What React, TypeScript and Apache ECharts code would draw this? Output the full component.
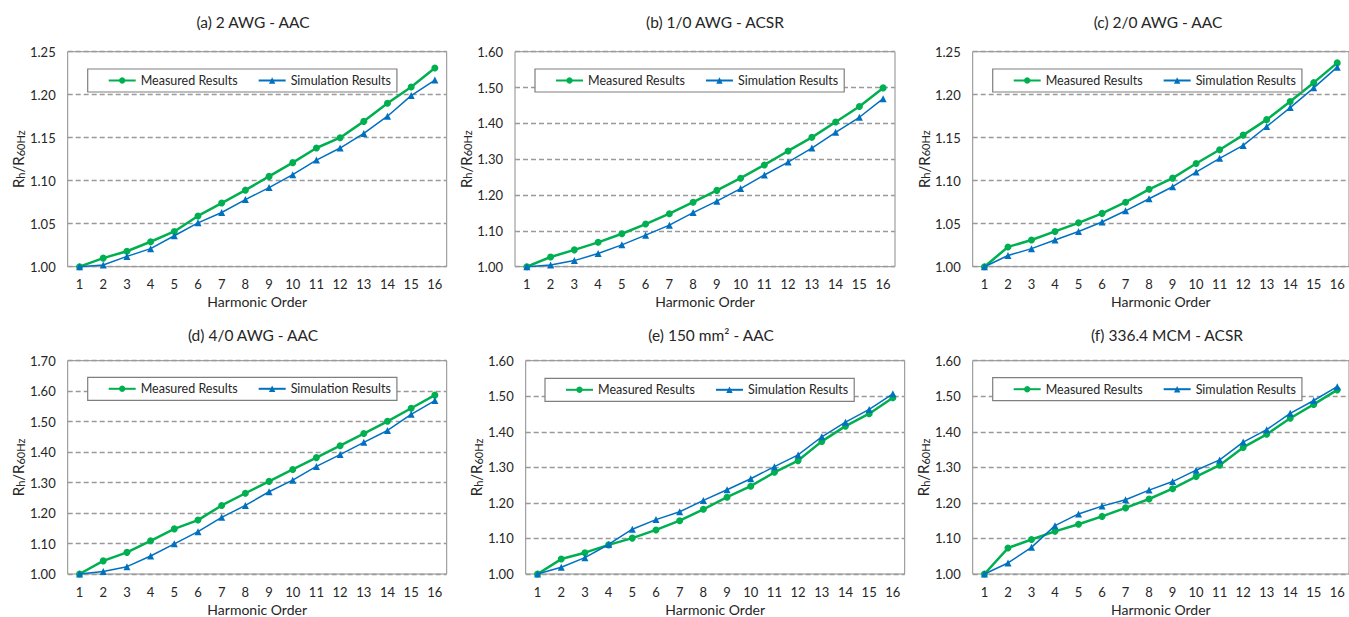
import React, { useEffect, useRef } from "react";
import * as echarts from "echarts";

// Harmonic orders on the x axis
const harmonicOrders = ["1", "2", "3", "4", "5", "6", "7", "8", "9", "10", "11", "12", "13", "14", "15", "16"];

const seriesNames = ["Measured Results", "Simulation Results"];

const panelTitles = [
  "(a) 2 AWG - AAC",
  "(b) 1/0 AWG - ACSR",
  "(c) 2/0 AWG - AAC",
  "(d) 4/0 AWG - AAC",
  "(e) 150 mm² - AAC",
  "(f) 336.4 MCM - ACSR",
];

// Rh / R60Hz ratios per conductor
const measuredA = [1.0, 1.01, 1.018, 1.029, 1.041, 1.059, 1.074, 1.089, 1.105, 1.121, 1.138, 1.15, 1.169, 1.19, 1.209, 1.231];
const simulatedA = [1.0, 1.002, 1.012, 1.021, 1.036, 1.051, 1.063, 1.078, 1.092, 1.107, 1.124, 1.138, 1.155, 1.175, 1.199, 1.217];

const measuredB = [1.0, 1.027, 1.047, 1.068, 1.092, 1.119, 1.148, 1.18, 1.213, 1.247, 1.284, 1.323, 1.361, 1.404, 1.447, 1.499];
const simulatedB = [1.0, 1.005, 1.017, 1.037, 1.061, 1.088, 1.116, 1.151, 1.183, 1.218, 1.256, 1.292, 1.331, 1.375, 1.417, 1.469];

const measuredC = [1.0, 1.023, 1.031, 1.041, 1.051, 1.062, 1.075, 1.09, 1.103, 1.12, 1.136, 1.153, 1.171, 1.192, 1.214, 1.237];
const simulatedC = [1.0, 1.013, 1.021, 1.031, 1.041, 1.052, 1.065, 1.079, 1.093, 1.11, 1.126, 1.141, 1.163, 1.185, 1.208, 1.232];

const measuredD = [1.0, 1.043, 1.071, 1.109, 1.148, 1.177, 1.225, 1.265, 1.304, 1.343, 1.382, 1.421, 1.461, 1.501, 1.544, 1.587];
const simulatedD = [1.0, 1.008, 1.024, 1.059, 1.099, 1.139, 1.186, 1.225, 1.27, 1.308, 1.353, 1.392, 1.432, 1.471, 1.524, 1.569];

const measuredE = [1.0, 1.042, 1.06, 1.082, 1.101, 1.124, 1.15, 1.182, 1.216, 1.247, 1.286, 1.319, 1.373, 1.416, 1.451, 1.496];
const simulatedE = [1.0, 1.019, 1.046, 1.083, 1.126, 1.153, 1.175, 1.207, 1.237, 1.268, 1.302, 1.335, 1.386, 1.427, 1.463, 1.507];

const measuredF = [1.0, 1.073, 1.097, 1.12, 1.14, 1.162, 1.186, 1.211, 1.24, 1.274, 1.306, 1.356, 1.393, 1.438, 1.477, 1.518];
const simulatedF = [1.0, 1.031, 1.075, 1.136, 1.169, 1.191, 1.209, 1.236, 1.26, 1.292, 1.321, 1.371, 1.406, 1.452, 1.488, 1.527];

const measuredSets = [measuredA, measuredB, measuredC, measuredD, measuredE, measuredF];
const simulatedSets = [simulatedA, simulatedB, simulatedC, simulatedD, simulatedE, simulatedF];

// y axis ranges: [min, max, step]
const yRanges = [
  [1.0, 1.25, 0.05],
  [1.0, 1.6, 0.1],
  [1.0, 1.25, 0.05],
  [1.0, 1.7, 0.1],
  [1.0, 1.6, 0.1],
  [1.0, 1.6, 0.1],
];

// Panel layout (pixels)
const layout = [
  { left: 67.7, top: 51.7, width: 379, height: 215, tx: 253, ty: 22, lx: 87.7, ly: 69, gap: 42 },
  { left: 515, top: 51.7, width: 380, height: 215, tx: 715, ty: 22, lx: 535, ly: 69, gap: 39 },
  { left: 972.7, top: 51.7, width: 379.3, height: 215, tx: 1158, ty: 22, lx: 992.7, ly: 69, gap: 41 },
  { left: 67.7, top: 360.7, width: 379, height: 214.3, tx: 253, ty: 335, lx: 87.7, ly: 377.3, gap: 42 },
  { left: 525.7, top: 360.7, width: 379, height: 215, tx: 711, ty: 335, lx: 545, ly: 378.3, gap: 42 },
  { left: 972.7, top: 360.7, width: 379.3, height: 214.3, tx: 1167, ty: 335, lx: 992.7, ly: 377.7, gap: 42 },
];

const FONT = 'Lato, "Open Sans", sans-serif';
const GREEN = "#00b050";
const BLUE = "#0070c0";
const TEXT = "#262626";

function buildOption() {
  const grid: any[] = [];
  const xAxis: any[] = [];
  const yAxis: any[] = [];
  const legend: any[] = [];
  const series: any[] = [];
  const graphic: any[] = [];

  panelTitles.forEach((title, i) => {
    const L = layout[i];
    const [yMin, yMax, yStep] = yRanges[i];

    grid.push({
      left: L.left,
      top: L.top,
      width: L.width,
      height: L.height,
      show: true,
      borderColor: "#8c8c8c",
      borderWidth: 1,
      backgroundColor: "transparent",
    });

    xAxis.push({
      type: "category",
      gridIndex: i,
      data: harmonicOrders,
      boundaryGap: true,
      axisLine: { show: false },
      axisTick: { show: false },
      splitLine: { show: false },
      axisLabel: { color: TEXT, fontFamily: FONT, fontSize: 13, margin: 11, interval: 0 },
      name: "Harmonic Order",
      nameLocation: "middle",
      nameGap: 28,
      nameTextStyle: { color: TEXT, fontFamily: FONT, fontSize: 14 },
    });

    yAxis.push({
      type: "value",
      gridIndex: i,
      min: yMin,
      max: yMax,
      interval: yStep,
      axisLine: { show: false },
      axisTick: { show: false },
      axisLabel: {
        color: TEXT,
        fontFamily: FONT,
        fontSize: 13,
        margin: 12,
        formatter: (v: number) => v.toFixed(2),
      },
      splitLine: {
        show: true,
        lineStyle: { color: "#9a9a9a", width: 1.3, type: [5, 3] },
      },
      name: "{m|R}{s|h}{m|/R}{s|60Hz}",
      nameLocation: "middle",
      nameRotate: 90,
      nameGap: L.gap,
      nameTextStyle: {
        color: TEXT,
        fontFamily: FONT,
        rich: {
          m: { fontSize: 15, fontFamily: FONT, color: TEXT, verticalAlign: "bottom", lineHeight: 17 },
          s: { fontSize: 11, fontFamily: FONT, color: TEXT, verticalAlign: "bottom", lineHeight: 15 },
        },
      },
    });

    legend.push({
      data: seriesNames,
      left: L.lx,
      top: L.ly,
      orient: "horizontal",
      backgroundColor: "#ffffff",
      borderColor: "#7f7f7f",
      borderWidth: 1.2,
      borderRadius: 0,
      padding: [5, 6, 5, 20],
      itemGap: 20,
      itemWidth: 27,
      itemHeight: 8,
      textStyle: { color: TEXT, fontFamily: FONT, fontSize: 12.5 },
      selectedMode: false,
    });

    series.push({
      name: seriesNames[0],
      type: "line",
      xAxisIndex: i,
      yAxisIndex: i,
      data: measuredSets[i],
      symbol: "circle",
      symbolSize: 7,
      lineStyle: { color: GREEN, width: 2.5 },
      itemStyle: { color: GREEN },
      z: 3,
    });
    series.push({
      name: seriesNames[1],
      type: "line",
      xAxisIndex: i,
      yAxisIndex: i,
      data: simulatedSets[i],
      symbol: "triangle",
      symbolSize: 7,
      lineStyle: { color: BLUE, width: 1.5 },
      itemStyle: { color: BLUE },
      z: 4,
    });

    graphic.push({
      type: "text",
      x: L.tx,
      y: L.ty,
      style: {
        text: title,
        fill: TEXT,
        font: `15.5px ${FONT}`,
        textAlign: "center",
        textVerticalAlign: "middle",
      },
    });
  });

  return {
    animation: false,
    backgroundColor: "#ffffff",
    grid,
    xAxis,
    yAxis,
    legend,
    series,
    graphic,
  };
}

export default function App() {
  const ref = useRef<HTMLDivElement>(null);

  useEffect(() => {
    if (!ref.current) return;
    const chart = echarts.init(ref.current, null, { renderer: "svg" });
    chart.setOption(buildOption());
    return () => chart.dispose();
  }, []);

  return (
    <div
      ref={ref}
      style={{ position: "absolute", left: 0, top: 0, width: 1349, height: 617, background: "#fff" }}
    />
  );
}
